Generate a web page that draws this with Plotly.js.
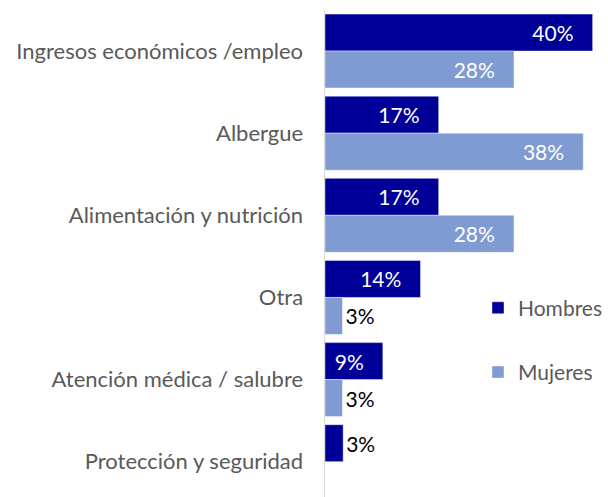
<!DOCTYPE html>
<html>
<head>
<meta charset="utf-8">
<script src="https://cdn.plot.ly/plotly-3.0.1.min.js"></script>
<style>html,body{margin:0;padding:0;background:#fff;}#chart{width:608px;height:497px;}</style>
</head>
<body>
<div id="chart"></div>
<script>
var categories = ["Ingresos económicos /empleo", "Albergue", "Alimentación y nutrición", "Otra", "Atención médica / salubre", "Protección y seguridad"];
var hombres = [39.8, 16.9, 16.9, 14.2, 8.6, 2.7];
var mujeres = [28.1, 38.4, 28.1, 2.6, 2.6, null];
var seriesNames = ["Hombres", "Mujeres"];
var seriesColors = ["#000099", "#7F9BD1"];

var pad = "\u00a0\u00a0\u00a0";
var FONT = "Lato, 'Open Sans', sans-serif";

function makeTrace(vals, name, color, grp) {
  return {
    type: "bar", orientation: "h",
    x: vals, y: categories, name: name, legendgroup: grp,
    marker: {color: color, line: {color: "rgba(255,255,255,0.6)", width: 0.7}},
    texttemplate: "%{x:.0f}%" + pad,
    textposition: "auto",
    insidetextanchor: "end",
    textangle: 0,
    constraintext: "none",
    insidetextfont: {color: "#ffffff", size: 21, family: FONT},
    outsidetextfont: {color: "#000000", size: 21, family: FONT},
    cliponaxis: false,
    hoverinfo: "skip"
  };
}

var data = [
  makeTrace(hombres, seriesNames[0], seriesColors[0], "g1"),
  makeTrace(mujeres, seriesNames[1], seriesColors[1], "g2")
];

var layout = {
  width: 608, height: 497,
  margin: {l: 325, r: 2, t: 10, b: 0},
  paper_bgcolor: "#fff", plot_bgcolor: "#fff",
  barmode: "group", bargap: 0.1, bargroupgap: 0,
  font: {family: FONT, size: 22, color: "#595959"},
  xaxis: {range: [0, 40.3], showgrid: false, zeroline: false, showline: false, showticklabels: false, ticks: ""},
  yaxis: {
    type: "category", range: [5.43, -0.5],
    showline: true, linecolor: "#D9D9D9", linewidth: 1.5,
    showgrid: false, zeroline: false, ticks: "outside", ticklen: 16, tickcolor: "rgba(0,0,0,0)",
    tickfont: {family: FONT, size: 22, color: "#595959"}
  },
  showlegend: true,
  legend: {
    x: 0.565, y: 0.43, xanchor: "left", yanchor: "top",
    traceorder: "grouped", tracegroupgap: 34,
    font: {family: FONT, size: 21, color: "#595959"},
    bgcolor: "rgba(0,0,0,0)"
  }
};

Plotly.newPlot("chart", data, layout, {displayModeBar: false, staticPlot: true});
</script>
</body>
</html>
